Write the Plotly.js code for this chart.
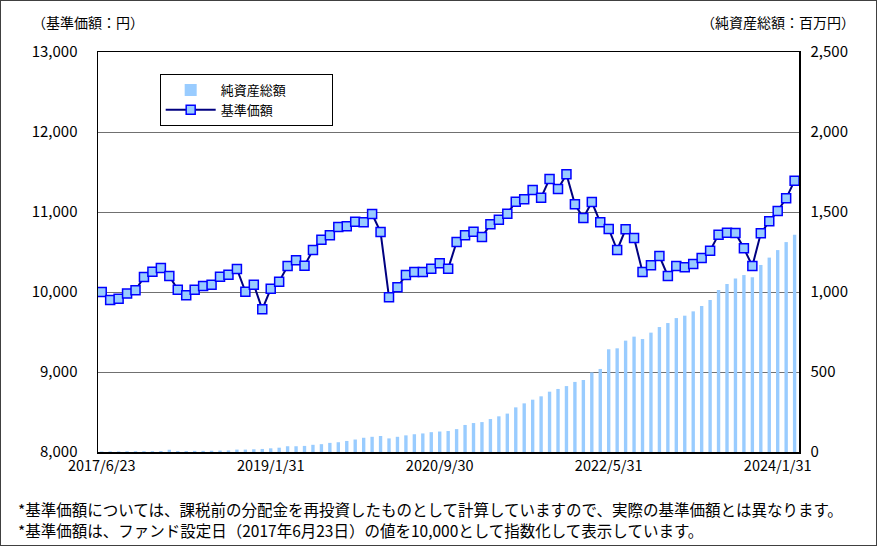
<!DOCTYPE html>
<html>
<head>
<meta charset="utf-8">
<script src="https://cdn.plot.ly/plotly-3.0.1.min.js"></script>
<style>
html,body{margin:0;padding:0;background:#fff;}
#chart{width:877px;height:546px;box-sizing:border-box;border:1px solid #404040;}
</style>
</head>
<body>
<div id="chart"></div>
<script>
// Dates (categories)
const dates = [
"2017/6/23","2017/6/30","2017/7/31","2017/8/31","2017/9/30","2017/10/31","2017/11/30","2017/12/31",
"2018/1/31","2018/2/28","2018/3/31","2018/4/30","2018/5/31","2018/6/30","2018/7/31","2018/8/31","2018/9/30","2018/10/31","2018/11/30","2018/12/31",
"2019/1/31","2019/2/28","2019/3/31","2019/4/30","2019/5/31","2019/6/30","2019/7/31","2019/8/31","2019/9/30","2019/10/31","2019/11/30","2019/12/31",
"2020/1/31","2020/2/29","2020/3/31","2020/4/30","2020/5/31","2020/6/30","2020/7/31","2020/8/31","2020/9/30","2020/10/31","2020/11/30","2020/12/31",
"2021/1/31","2021/2/28","2021/3/31","2021/4/30","2021/5/31","2021/6/30","2021/7/31","2021/8/31","2021/9/30","2021/10/31","2021/11/30","2021/12/31",
"2022/1/31","2022/2/28","2022/3/31","2022/4/30","2022/5/31","2022/6/30","2022/7/31","2022/8/31","2022/9/30","2022/10/31","2022/11/30","2022/12/31",
"2023/1/31","2023/2/28","2023/3/31","2023/4/30","2023/5/31","2023/6/30","2023/7/31","2023/8/31","2023/9/30","2023/10/31","2023/11/30","2023/12/31",
"2024/1/31","2024/2/29","2024/3/31"
];

// 基準価額 (円)
const nav = [
10000,9900,9917,9980,10021,10188,10254,10300,10200,10029,
9958,10029,10075,10092,10192,10217,10288,10004,10092,9783,
10040,10129,10325,10396,10329,10525,10654,10708,10813,10821,
10879,10871,10975,10750,9933,10058,10213,10250,10250,10292,
10358,10292,10625,10708,10754,10688,10846,10904,10979,11129,
11158,11275,11179,11413,11288,11471,11096,10925,11125,10871,
10788,10525,10783,10675,10250,10333,10450,10200,10325,10308,
10350,10425,10517,10717,10742,10738,10546,10325,10733,10883,
11013,11171,11392
];

// 純資産総額 (百万円)
const aum = [
3,4,4,5,5,5,5,6,14,6,
6,7,7,8,9,10,15,15,17,19,
23,27,36,36,38,45,49,57,61,69,
78,89,95,100,85,95,104,111,116,124,
128,131,143,169,181,187,206,223,240,279,
304,327,348,377,394,412,438,450,497,519,
642,648,696,721,706,746,781,806,837,852,
879,912,950,1012,1050,1085,1106,1092,1169,1215,
1262,1312,1358
];

const seriesNames = ["純資産総額", "基準価額"];
const xTickLabels = ["2017/6/23","2019/1/31","2020/9/30","2022/5/31","2024/1/31"];
const leftTicks = [8000,9000,10000,11000,12000,13000];
const rightTicks = [0,500,1000,1500,2000,2500];

const FONT = "'Noto Sans CJK JP', 'Noto Sans', sans-serif";
const PAD = "\u00a0".repeat(14);

const traces = [
  {
    type: "bar",
    name: seriesNames[0] + PAD,
    x: dates,
    y: aum,
    yaxis: "y",
    marker: {color: "#99CCFF"},
    hoverinfo: "x+y"
  },
  {
    type: "scatter",
    mode: "lines+markers",
    name: seriesNames[1] + PAD,
    x: dates,
    y: nav,
    yaxis: "y2",
    line: {color: "#000080", width: 2},
    marker: {symbol: "square", size: 9, color: "#99CCFF", line: {color: "#0000FF", width: 1.5}}
  }
];

const layout = {
  width: 875,
  height: 544,
  margin: {l: 97, r: 77, t: 51, b: 93},
  paper_bgcolor: "#fff",
  plot_bgcolor: "#fff",
  font: {family: FONT, size: 15, color: "#000"},
  bargap: 0.6,
  showlegend: true,
  legend: {
    x: 0.088, y: 0.945, xanchor: "left", yanchor: "top",
    bgcolor: "#fff", bordercolor: "#000", borderwidth: 1,
    font: {family: FONT, size: 13, color: "#000"},
    traceorder: "normal",
    itemwidth: 50,
    tracegroupgap: 4
  },
  xaxis: {
    type: "category",
    range: [-0.44, 82.52],
    tickmode: "array",
    tickvals: xTickLabels,
    ticktext: xTickLabels,
    tickangle: 0,
    showgrid: false,
    showline: true, linecolor: "#000", linewidth: 1.5, mirror: true,
    ticks: "",
    tickfont: {family: FONT, size: 14.5},
    zeroline: false
  },
  yaxis: {
    side: "right",
    range: [0, 2500],
    tickmode: "array",
    tickvals: rightTicks,
    ticktext: rightTicks.map(v => v.toLocaleString("en-US")),
    showgrid: false,
    showline: true, linecolor: "#000", linewidth: 1.5,
    ticks: "", ticklabelstandoff: 7,
    zeroline: false,
    tickfont: {family: FONT, size: 15}
  },
  yaxis2: {
    side: "left",
    overlaying: "y",
    range: [8000, 13000],
    tickmode: "array",
    tickvals: leftTicks,
    ticktext: leftTicks.map(v => v.toLocaleString("en-US")),
    showgrid: true, gridcolor: "#707070", gridwidth: 1,
    showline: true, linecolor: "#000", linewidth: 1.5,
    ticks: "", ticklabelstandoff: 16,
    zeroline: false,
    tickfont: {family: FONT, size: 15}
  },
  annotations: [
    {text: "（基準価額：円）", xref: "paper", yref: "paper", x: -0.014, y: 1.075,
     xanchor: "center", yanchor: "middle", showarrow: false, font: {family: FONT, size: 14}},
    {text: "（純資産総額：百万円）", xref: "paper", yref: "paper", x: 0.970, y: 1.075,
     xanchor: "center", yanchor: "middle", showarrow: false, font: {family: FONT, size: 14}},
    {text: "*基準価額については、課税前の分配金を再投資したものとして計算していますので、実際の基準価額とは異なります。",
     xref: "paper", yref: "paper", x: -0.117, y: -0.1425, xanchor: "left", yanchor: "middle",
     showarrow: false, font: {family: FONT, size: 15.5}},
    {text: "*基準価額は、ファンド設定日（2017年6月23日）の値を10,000として指数化して表示しています。",
     xref: "paper", yref: "paper", x: -0.117, y: -0.195, xanchor: "left", yanchor: "middle",
     showarrow: false, font: {family: FONT, size: 15.5}}
  ]
};

Plotly.newPlot("chart", traces, layout, {displayModeBar: false, staticPlot: true});
</script>
</body>
</html>
